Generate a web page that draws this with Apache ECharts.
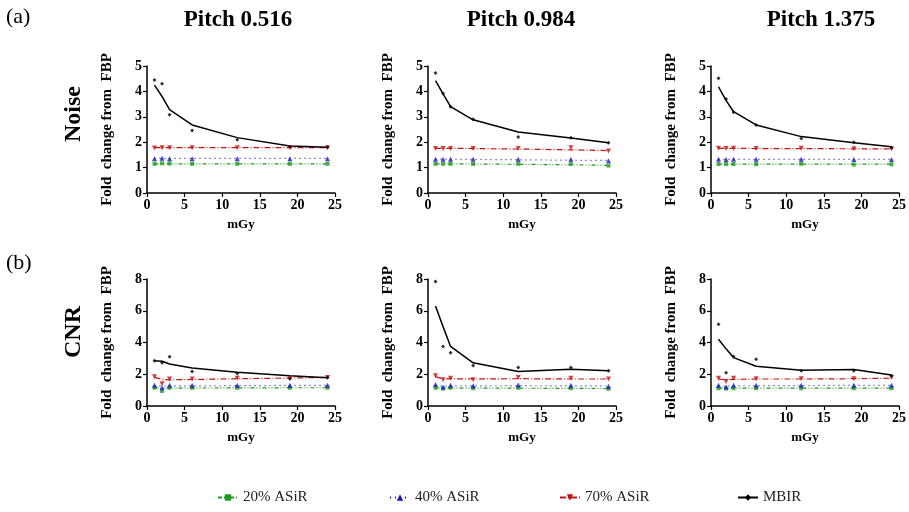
<!DOCTYPE html>
<html>
<head>
<meta charset="utf-8">
<script src="https://cdn.jsdelivr.net/npm/echarts@6/dist/echarts.min.js"></script>
<style>
  html, body { margin: 0; padding: 0; background: #fff; }
  #chart { width: 909px; height: 512px; }
</style>
</head>
<body>
<div id="chart"></div>
<script>
// dose levels (mGy)
const dose = [1, 2, 3, 6, 12, 19, 24]
const pitches = ['Pitch 0.516', 'Pitch 0.984', 'Pitch 1.375']
const seriesNames = ['20% ASiR', '40% ASiR', '70% ASiR', 'MBIR']
const yTicksNoise = [0, 1, 2, 3, 4, 5]
const yTicksCnr = [0, 2, 4, 6, 8]

// Noise, pitch 0.516 : measured points / fitted line
const noise1A20 = [1.15, 1.17, 1.16, 1.15, 1.15, 1.15, 1.15]
const noise1A20Fit = [1.15, 1.15, 1.15, 1.15, 1.15, 1.15, 1.15]
const noise1A40 = [1.35, 1.37, 1.35, 1.35, 1.35, 1.35, 1.35]
const noise1A40Fit = [1.36, 1.36, 1.36, 1.36, 1.36, 1.36, 1.36]
const noise1A70 = [1.77, 1.78, 1.78, 1.78, 1.78, 1.78, 1.78]
const noise1A70Fit = [1.79, 1.79, 1.79, 1.79, 1.79, 1.79, 1.79]
const noise1Mbir = [4.45, 4.3, 3.08, 2.46, 2.1, 1.82, 1.8]
const noise1MbirFit = [4.25, 3.8, 3.28, 2.68, 2.18, 1.85, 1.8]

// Noise, pitch 0.984
const noise2A20 = [1.15, 1.15, 1.15, 1.15, 1.15, 1.15, 1.08]
const noise2A20Fit = [1.15, 1.15, 1.15, 1.14, 1.13, 1.11, 1.09]
const noise2A40 = [1.33, 1.33, 1.33, 1.33, 1.33, 1.33, 1.27]
const noise2A40Fit = [1.33, 1.33, 1.33, 1.32, 1.31, 1.29, 1.28]
const noise2A70 = [1.75, 1.75, 1.75, 1.75, 1.75, 1.78, 1.65]
const noise2A70Fit = [1.76, 1.76, 1.76, 1.75, 1.73, 1.7, 1.67]
const noise2Mbir = [4.72, 3.92, 3.4, 2.9, 2.2, 2.18, 1.98]
const noise2MbirFit = [4.42, 3.9, 3.4, 2.88, 2.4, 2.17, 1.98]

// Noise, pitch 1.375
const noise3A20 = [1.14, 1.14, 1.14, 1.14, 1.15, 1.12, 1.13]
const noise3A20Fit = [1.14, 1.14, 1.14, 1.14, 1.14, 1.14, 1.14]
const noise3A40 = [1.33, 1.32, 1.33, 1.33, 1.33, 1.32, 1.32]
const noise3A40Fit = [1.32, 1.32, 1.32, 1.32, 1.32, 1.32, 1.32]
const noise3A70 = [1.76, 1.75, 1.76, 1.75, 1.76, 1.74, 1.74]
const noise3A70Fit = [1.76, 1.76, 1.76, 1.75, 1.75, 1.74, 1.74]
const noise3Mbir = [4.52, 3.7, 3.18, 2.68, 2.15, 2.0, 1.78]
const noise3MbirFit = [4.18, 3.65, 3.2, 2.68, 2.22, 1.98, 1.82]

// CNR, pitch 0.516
const cnr1A20 = [1.15, 0.95, 1.15, 1.15, 1.15, 1.15, 1.15]
const cnr1A20Fit = [1.15, 1.12, 1.12, 1.13, 1.14, 1.15, 1.15]
const cnr1A40 = [1.3, 1.15, 1.3, 1.3, 1.3, 1.3, 1.3]
const cnr1A40Fit = [1.28, 1.26, 1.26, 1.27, 1.28, 1.3, 1.3]
const cnr1A70 = [1.85, 1.4, 1.7, 1.7, 1.75, 1.75, 1.8]
const cnr1A70Fit = [1.8, 1.68, 1.65, 1.67, 1.72, 1.76, 1.8]
const cnr1Mbir = [2.85, 2.72, 3.1, 2.18, 2.05, 1.72, 1.8]
const cnr1MbirFit = [2.85, 2.82, 2.65, 2.4, 2.12, 1.9, 1.78]

// CNR, pitch 0.984
const cnr2A20 = [1.15, 1.1, 1.15, 1.12, 1.15, 1.12, 1.08]
const cnr2A20Fit = [1.15, 1.12, 1.12, 1.12, 1.12, 1.11, 1.1]
const cnr2A40 = [1.35, 1.2, 1.3, 1.28, 1.32, 1.3, 1.25]
const cnr2A40Fit = [1.3, 1.25, 1.26, 1.27, 1.28, 1.27, 1.26]
const cnr2A70 = [1.9, 1.65, 1.75, 1.65, 1.8, 1.75, 1.7]
const cnr2A70Fit = [1.85, 1.7, 1.72, 1.7, 1.72, 1.7, 1.7]
const cnr2Mbir = [7.85, 3.75, 3.35, 2.55, 2.42, 2.42, 2.22]
const cnr2MbirFit = [6.3, 5.0, 3.75, 2.72, 2.18, 2.32, 2.22]

// CNR, pitch 1.375
const cnr3A20 = [1.12, 1.1, 1.12, 1.12, 1.12, 1.12, 1.12]
const cnr3A20Fit = [1.12, 1.12, 1.12, 1.12, 1.12, 1.12, 1.12]
const cnr3A40 = [1.3, 1.2, 1.3, 1.3, 1.3, 1.3, 1.3]
const cnr3A40Fit = [1.28, 1.25, 1.27, 1.28, 1.29, 1.3, 1.3]
const cnr3A70 = [1.75, 1.55, 1.75, 1.72, 1.72, 1.72, 1.8]
const cnr3A70Fit = [1.7, 1.65, 1.68, 1.7, 1.7, 1.72, 1.75]
const cnr3Mbir = [5.15, 2.1, 3.12, 2.95, 2.22, 2.22, 1.9]
const cnr3MbirFit = [4.2, 3.6, 3.05, 2.5, 2.25, 2.3, 1.95]

const panels = [
  [[noise1A20, noise1A40, noise1A70, noise1Mbir], [noise1A20Fit, noise1A40Fit, noise1A70Fit, noise1MbirFit]],
  [[noise2A20, noise2A40, noise2A70, noise2Mbir], [noise2A20Fit, noise2A40Fit, noise2A70Fit, noise2MbirFit]],
  [[noise3A20, noise3A40, noise3A70, noise3Mbir], [noise3A20Fit, noise3A40Fit, noise3A70Fit, noise3MbirFit]],
  [[cnr1A20, cnr1A40, cnr1A70, cnr1Mbir], [cnr1A20Fit, cnr1A40Fit, cnr1A70Fit, cnr1MbirFit]],
  [[cnr2A20, cnr2A40, cnr2A70, cnr2Mbir], [cnr2A20Fit, cnr2A40Fit, cnr2A70Fit, cnr2MbirFit]],
  [[cnr3A20, cnr3A40, cnr3A70, cnr3Mbir], [cnr3A20Fit, cnr3A40Fit, cnr3A70Fit, cnr3MbirFit]]
]

const serif = 'Liberation Serif'
const colors = ['#1e9b1e', '#1515c8', '#c41414', '#000000']
const lineTypes = [[4, 2, 1, 2, 1, 2], [1, 4], [6, 2, 1, 2], 'solid']
const symbols = ['rect', 'triangle', 'path://M0,0 L10,0 L5,9 Z', 'diamond']
const symbolSizes = [4, 5, 5, 4]

const gridLefts = [147, 428, 711]
const gridTops = [66, 279]

const chart = echarts.init(document.getElementById('chart'))

const grids = []
const xAxes = []
const yAxes = []
const series = []

panels.forEach((panel, i) => {
  const row = Math.floor(i / 3)
  const col = i % 3
  const ticks = row === 0 ? yTicksNoise : yTicksCnr
  grids.push({ left: gridLefts[col], top: gridTops[row], width: 188, height: 127 })
  xAxes.push({
    gridIndex: i,
    type: 'value',
    min: 0,
    max: 25,
    interval: 5,
    name: 'mGy',
    nameLocation: 'middle',
    nameGap: 25,
    nameTextStyle: { fontFamily: serif, fontWeight: 'bold', fontSize: 13, color: '#000' },
    axisLine: { lineStyle: { color: '#000', width: 1.5 } },
    axisTick: { length: 4, lineStyle: { color: '#000', width: 1.2 } },
    axisLabel: { fontFamily: serif, fontWeight: 'bold', fontSize: 14, color: '#000', margin: 5 },
    splitLine: { show: false }
  })
  yAxes.push({
    gridIndex: i,
    type: 'value',
    min: ticks[0],
    max: ticks[ticks.length - 1],
    interval: ticks[1] - ticks[0],
    name: 'Fold  change from  FBP',
    nameLocation: 'middle',
    nameGap: 32,
    nameTextStyle: { fontFamily: serif, fontWeight: 'bold', fontSize: 15, color: '#000' },
    axisLine: { show: true, lineStyle: { color: '#000', width: 1.5 } },
    axisTick: { show: true, length: 4, lineStyle: { color: '#000', width: 1.2 } },
    axisLabel: { fontFamily: serif, fontWeight: 'bold', fontSize: 14, color: '#000', margin: 5 },
    splitLine: { show: false }
  })
  const [pts, fits] = panel
  fits.forEach((vals, k) => {
    series.push({
      type: 'line',
      name: seriesNames[k],
      xAxisIndex: i,
      yAxisIndex: i,
      data: dose.map((d, j) => [d, vals[j]]),
      symbol: symbols[k],
      symbolSize: symbolSizes[k],
      showSymbol: false,
      itemStyle: { color: colors[k] },
      lineStyle: { color: colors[k], width: k === 3 ? 1.5 : 1.2, type: lineTypes[k] },
      z: 2
    })
  })
  pts.forEach((vals, k) => {
    series.push({
      type: 'scatter',
      name: seriesNames[k] + ' data',
      xAxisIndex: i,
      yAxisIndex: i,
      data: dose.map((d, j) => [d, vals[j]]),
      symbol: symbols[k],
      symbolSize: symbolSizes[k],
      itemStyle: { color: colors[k] },
      z: 3
    })
  })
})

const legendLefts = [212, 384, 554, 732]
const legends = seriesNames.map((name, k) => ({
  data: [name],
  left: legendLefts[k],
  top: 485,
  itemWidth: 20,
  itemHeight: 8,
  itemGap: 8,
  textStyle: { fontFamily: serif, fontSize: 15, color: '#222' }
}))

const option = {
  animation: false,
  backgroundColor: '#fff',
  grid: grids,
  xAxis: xAxes,
  yAxis: yAxes,
  legend: legends,
  series: series,
  graphic: [
    { type: 'text', left: 6, top: 6, style: { text: '(a)', font: '22px "Liberation Serif"', fill: '#000' } },
    { type: 'text', left: 6, top: 252, style: { text: '(b)', font: '22px "Liberation Serif"', fill: '#000' } },
    ...pitches.map((p, c) => ({
      type: 'text',
      x: [238, 521, 821][c],
      y: 20,
      style: { text: p, font: 'bold 23px "Liberation Serif"', fill: '#000', align: 'center', verticalAlign: 'middle' }
    })),
    { type: 'text', x: 74, y: 114, rotation: Math.PI / 2,
      style: { text: 'Noise', font: 'bold 24px "Liberation Serif"', fill: '#000', align: 'center', verticalAlign: 'middle' } },
    { type: 'text', x: 74, y: 332, rotation: Math.PI / 2,
      style: { text: 'CNR', font: 'bold 24px "Liberation Serif"', fill: '#000', align: 'center', verticalAlign: 'middle' } }
  ]
}

chart.setOption(option)
</script>
</body>
</html>
